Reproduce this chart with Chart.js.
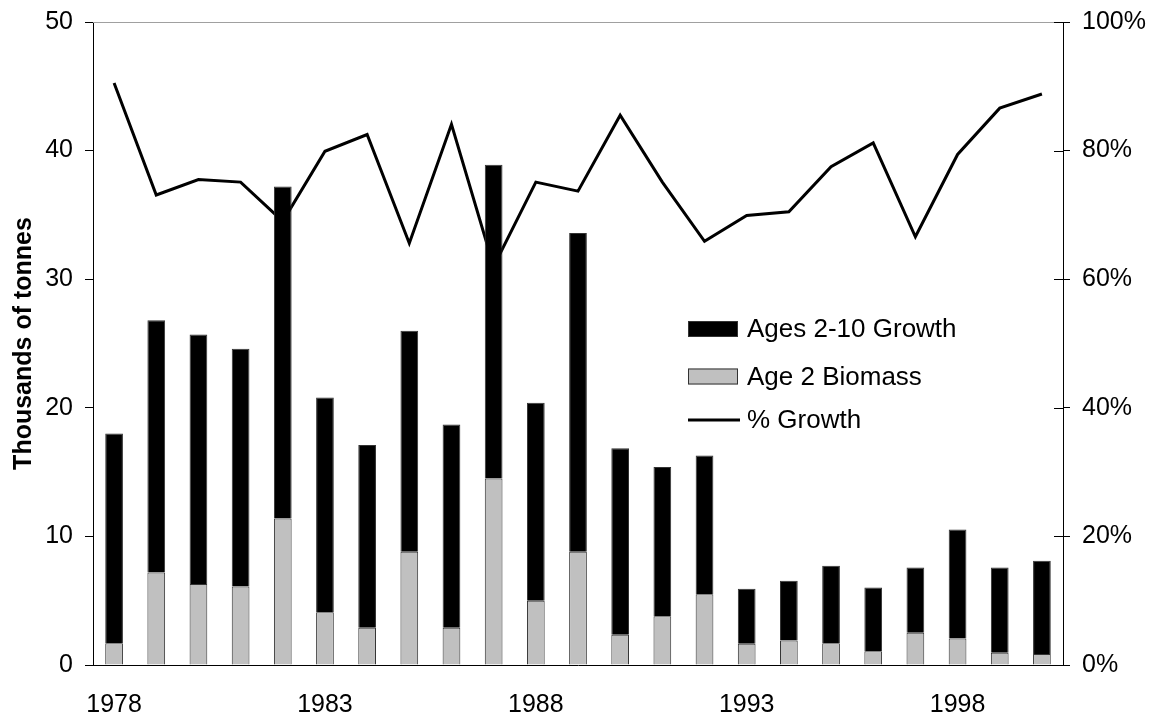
<!DOCTYPE html>
<html>
<head>
<meta charset="utf-8">
<script src="https://cdn.jsdelivr.net/npm/chart.js@4/dist/chart.umd.min.js"></script>
<style>
html,body{margin:0;padding:0;background:#fff;}
#wrap{width:1156px;height:717px;}
</style>
</head>
<body>
<div id="wrap"><canvas id="c" width="1156" height="717"></canvas></div>
<script>
const years = ['1978','1979','1980','1981','1982','1983','1984','1985','1986','1987','1988','1989','1990','1991','1992','1993','1994','1995','1996','1997','1998','1999','2000'];
const age2Biomass = [1.7,7.2,6.3,6.1,11.4,4.1,2.9,8.8,2.9,14.5,5.0,8.8,2.35,3.8,5.5,1.66,1.9,1.7,1.06,2.5,2.07,0.96,0.85];
const ages210Growth = [16.3,19.6,19.4,18.5,25.8,16.7,14.2,17.2,15.8,24.4,15.4,24.8,14.5,11.6,10.8,4.27,4.66,6.01,4.97,5.09,8.47,6.62,7.25];
const pctGrowth = [90.5,73.1,75.5,75.1,69,79.9,82.5,65.6,84.1,62,75.1,73.7,85.5,75.1,65.9,69.9,70.5,77.5,81.2,66.6,79.4,86.6,88.8];
const leftTicks = [0,10,20,30,40,50];
const rightTicks = [0,20,40,60,80,100];
const shownYears = ['1978','1983','1988','1993','1998'];

const FONT = 'Liberation Sans, Arial, sans-serif';

const extras = {
  id: 'extras',
  afterDraw(chart) {
    const ctx = chart.ctx;
    const ca = chart.chartArea;
    ctx.save();
    ctx.strokeStyle = '#a0a0a0';
    ctx.lineWidth = 1;
    ctx.beginPath();
    ctx.moveTo(ca.left, Math.round(ca.top) + 0.5);
    ctx.lineTo(ca.right, Math.round(ca.top) + 0.5);
    ctx.stroke();
    const yR = chart.scales.yR;
    ctx.strokeStyle = '#000';
    ctx.beginPath();
    yR.ticks.forEach(t => {
      const y = Math.round(yR.getPixelForValue(t.value)) + 0.5;
      ctx.moveTo(ca.right - 9, y);
      ctx.lineTo(ca.right, y);
    });
    ctx.stroke();
    const ds = chart.data.datasets;
    const items = [ds[1], ds[0], ds[2]];
    const bx = 688, tx = 747;
    const rows = [329, 376.5, 420];
    ctx.font = '26px ' + FONT;
    ctx.textBaseline = 'middle';
    ctx.textAlign = 'left';
    items.forEach((d, i) => {
      const cy = rows[i];
      if (d.type === 'line') {
        ctx.strokeStyle = d.borderColor;
        ctx.lineWidth = 3;
        ctx.beginPath();
        ctx.moveTo(bx, cy);
        ctx.lineTo(bx + 52, cy);
        ctx.stroke();
      } else {
        ctx.fillStyle = d.backgroundColor;
        ctx.fillRect(bx, cy - 8, 50, 16);
        ctx.strokeStyle = '#333';
        ctx.lineWidth = 1;
        ctx.strokeRect(bx + 0.5, cy - 7.5, 49, 15);
      }
      ctx.fillStyle = '#000';
      ctx.fillText(d.label, tx, cy + 1);
    });
    ctx.restore();
  }
};

function fixY(width) {
  return function(s) { s.width = width; s.paddingTop = 0; s.paddingBottom = 0; };
}

new Chart(document.getElementById('c'), {
  data: {
    labels: years,
    datasets: [
      { type: 'bar', label: 'Age 2 Biomass', data: age2Biomass, backgroundColor: '#c0c0c0', borderColor: '#333', borderWidth: 1, yAxisID: 'y', stack: 's', order: 1, barPercentage: 0.42, categoryPercentage: 1 },
      { type: 'bar', label: 'Ages 2-10 Growth', data: ages210Growth, backgroundColor: '#000', borderColor: '#333', borderWidth: 1, yAxisID: 'y', stack: 's', order: 2, barPercentage: 0.42, categoryPercentage: 1 },
      { type: 'line', label: '% Growth', data: pctGrowth, borderColor: '#000', borderWidth: 3, pointRadius: 0, tension: 0, fill: false, yAxisID: 'yR', order: 3 }
    ]
  },
  options: {
    responsive: false,
    animation: false,
    devicePixelRatio: 1,
    layout: { padding: { top: 22, bottom: 0, left: 0, right: 0 } },
    plugins: { legend: { display: false }, tooltip: { enabled: false } },
    scales: {
      x: {
        stacked: true,
        grid: { display: false, drawTicks: false },
        border: { display: true, color: '#000', width: 1 },
        ticks: {
          autoSkip: false, maxRotation: 0, padding: 25, color: '#000',
          font: { family: FONT, size: 25 },
          callback: function(v, i) { const l = years[i]; return shownYears.includes(l) ? l : ''; }
        },
        afterFit(s) { s.height = 52; s.paddingLeft = 0; s.paddingRight = 0; }
      },
      y: {
        position: 'left', stacked: true, min: 0, max: 50,
        afterBuildTicks(s) { s.ticks = leftTicks.map(v => ({ value: v })); },
        grid: { drawOnChartArea: false, tickLength: 8, color: '#000' },
        border: { display: true, color: '#000', width: 1 },
        ticks: { padding: 12, color: '#000', font: { family: FONT, size: 25 } },
        title: { display: true, text: 'Thousands of tonnes', color: '#000', font: { family: FONT, size: 25, weight: 'bold' }, padding: { top: 9, bottom: 4 } },
        afterFit: fixY(93)
      },
      yR: {
        position: 'right', min: 0, max: 100,
        afterBuildTicks(s) { s.ticks = rightTicks.map(v => ({ value: v })); },
        grid: { drawOnChartArea: false, tickLength: 7, color: '#000' },
        border: { display: true, color: '#000', width: 1 },
        ticks: { padding: 12, color: '#000', font: { family: FONT, size: 25 }, callback: v => v + '%' },
        afterFit: fixY(93)
      }
    }
  },
  plugins: [extras]
});
</script>
</body>
</html>
